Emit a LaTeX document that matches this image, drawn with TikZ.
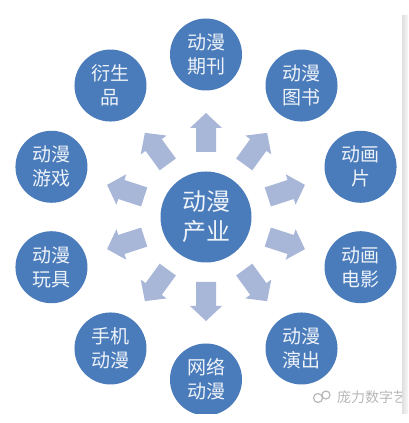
\documentclass[tikz,border=0pt]{standalone}
\usepackage{fontspec}
\newfontfamily\cjk{Noto Sans CJK SC}
\usetikzlibrary{calc}
\definecolor{circfill}{HTML}{4A7BBA}
\definecolor{circtext}{HTML}{EEF3FA}
\definecolor{arrowcol}{HTML}{A8B6D8}
\definecolor{wmark}{HTML}{B8B8B8}
\begin{document}
\begin{tikzpicture}[x=1pt,y=1pt,
  outer/.style={circle,fill=circfill,minimum size=72pt,inner sep=0pt,text=circtext,align=center,
    font=\cjk\fontsize{19}{24}\selectfont},
  hub/.style={circle,fill=circfill,minimum size=91pt,inner sep=0pt,text=circtext,align=center,
    font=\cjk\fontsize{24}{30}\selectfont},
  blockarrow/.pic={\fill[arrowcol] (-19.5,-10)--(4.5,-10)--(4.5,-16)--(19.5,0)--(4.5,16)--(4.5,10)--(-19.5,10)--cycle;}]
\useasboundingbox (0,0) rectangle (408,423);
\fill[white] (0,0) rectangle (408,423);
\node[hub] (c) at (206,206) {动漫\\产业};
\node[outer] (o1) at ($(c.center)+(90:162.5)$) {动漫\\期刊};
\node[outer] (o2) at ($(c.center)+(54:162.5)$) {动漫\\图书};
\node[outer] (o3) at ($(c.center)+(18:162.5)$) {动画\\片};
\node[outer] (o4) at ($(c.center)+(-18:162.5)$) {动画\\电影};
\node[outer] (o5) at ($(c.center)+(-54:162.5)$) {动漫\\演出};
\node[outer] (o6) at ($(c.center)+(-90:162.5)$) {网络\\动漫};
\node[outer] (o7) at ($(c.center)+(-126:162.5)$) {手机\\动漫};
\node[outer] (o8) at ($(c.center)+(-162:162.5)$) {动漫\\玩具};
\node[outer] (o9) at ($(c.center)+(162:162.5)$) {动漫\\游戏};
\node[outer] (o10) at ($(c.center)+(126:162.5)$) {衍生\\品};
\foreach \a in {90,54,18,-18,-54,-90,-126,-162,162,126}
  \pic[rotate=\a] at ($(c.center)+(\a:84.5)$) {blockarrow};
% bottom crop strip
\fill[white] (0,0) rectangle (402,9);
% watermark
\begin{scope}
\clip (300,10) rectangle (403,45);
\node[anchor=west,text=wmark,inner sep=0pt,font=\cjk\fontsize{14}{14}\selectfont] (wm) at (337,26) {庞力数字艺};
\draw[wmark,line width=1.2pt] (318,25) circle (4.5);
\draw[wmark,line width=1.2pt] (326,28) circle (4);
\end{scope}
% right edge strip
\shade[left color=gray!25,right color=gray!6] (402,9) rectangle (408,407);
\end{tikzpicture}
\end{document}
